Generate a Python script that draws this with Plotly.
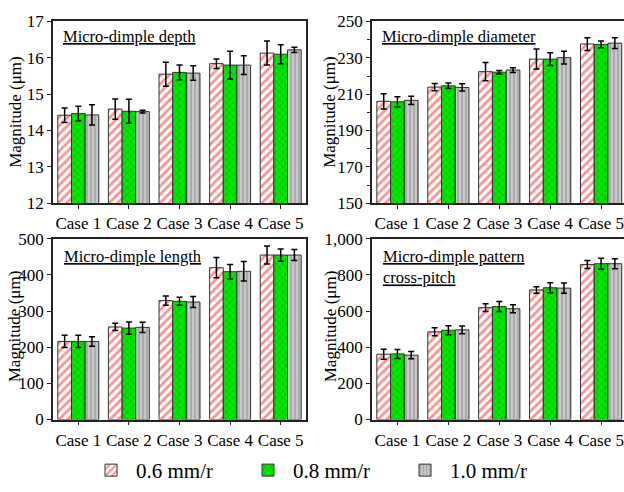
import plotly.graph_objects as go

W, H = 624, 492
cases = ["Case 1", "Case 2", "Case 3", "Case 4", "Case 5"]
series = ["0.6 mm/r", "0.8 mm/r", "1.0 mm/r"]

depth_06 = [14.42, 14.59, 15.55, 15.84, 16.13]
depth_08 = [14.47, 14.53, 15.60, 15.80, 16.10]
depth_10 = [14.43, 14.52, 15.58, 15.80, 16.22]
depth_06_err = [0.20, 0.28, 0.33, 0.13, 0.33]
depth_08_err = [0.20, 0.33, 0.20, 0.38, 0.26]
depth_10_err = [0.28, 0.04, 0.20, 0.26, 0.07]

diam_06 = [206.1, 213.9, 222.4, 229.3, 237.6]
diam_08 = [205.8, 214.6, 222.1, 229.3, 237.4]
diam_10 = [206.6, 213.7, 223.3, 230.1, 238.1]
diam_06_err = [4.2, 2.0, 5.0, 5.5, 3.5]
diam_08_err = [2.8, 1.5, 1.0, 3.5, 1.8]
diam_10_err = [2.3, 2.0, 1.3, 3.5, 3.0]

len_06 = [216, 256, 329, 420, 455]
len_08 = [216, 253, 327, 409, 455]
len_10 = [216, 255, 325, 410, 455]
len_06_err = [17, 10, 13, 28, 25]
len_08_err = [17, 17, 11, 20, 17]
len_10_err = [13, 14, 15, 27, 15]

pitch_06 = [361, 485, 619, 717, 858]
pitch_08 = [363, 494, 625, 729, 862]
pitch_10 = [356, 496, 613, 727, 862]
pitch_06_err = [28, 22, 22, 18, 22]
pitch_08_err = [25, 25, 28, 28, 30]
pitch_10_err = [20, 22, 22, 28, 28]

panel_titles = ["Micro-dimple depth", "Micro-dimple diameter",
                "Micro-dimple length", "Micro-dimple pattern<br>cross-pitch"]

FONT = "Liberation Serif"

patterns = [
    dict(shape="/", fgcolor="#ff2020", bgcolor="white", size=6, solidity=0.45),
    dict(shape="x", fgcolor="#009a00", bgcolor="#00e600", size=5, solidity=0.3),
    dict(shape="|", fgcolor="#767676", bgcolor="#c8c8c8", size=4, solidity=0.35),
]

panels = [
    (("x", "y"), [depth_06, depth_08, depth_10], [depth_06_err, depth_08_err, depth_10_err]),
    (("x2", "y2"), [diam_06, diam_08, diam_10], [diam_06_err, diam_08_err, diam_10_err]),
    (("x3", "y3"), [len_06, len_08, len_10], [len_06_err, len_08_err, len_10_err]),
    (("x4", "y4"), [pitch_06, pitch_08, pitch_10], [pitch_06_err, pitch_08_err, pitch_10_err]),
]

fig = go.Figure()
for pi, ((xa, ya), vals, errs) in enumerate(panels):
    for si in range(3):
        fig.add_trace(go.Bar(
            x=cases, y=vals[si], xaxis=xa, yaxis=ya,
            name=series[si], legendgroup=series[si], showlegend=(pi == 0),
            marker=dict(color=patterns[si]["bgcolor"], pattern=patterns[si],
                        line=dict(color="#333333", width=1)),
            error_y=dict(type="data", array=errs[si], color="black",
                         thickness=1.5, width=3),
        ))

def px_x(p):
    return p / W

def px_y(p):
    return 1 - p / H

xdom_l = [px_x(53), px_x(306)]
xdom_r = [px_x(372), 1.0]
ydom_t = [px_y(202), px_y(13)]
ydom_b = [px_y(427), px_y(239)]

tickfont = dict(family=FONT, size=17, color="black")
common_x = dict(showline=True, linecolor="#222", linewidth=1.5, ticks="outside",
                ticklen=4, tickcolor="#222", tickfont=tickfont, showgrid=False,
                mirror=True, fixedrange=True)
common_y = dict(showline=True, linecolor="#222", linewidth=1.5, ticks="outside",
                ticklen=4, tickcolor="#222", tickfont=tickfont, showgrid=False,
                zeroline=False, mirror=True)

layout = dict(
    width=W, height=H, margin=dict(l=0, r=0, t=0, b=0),
    plot_bgcolor="white", paper_bgcolor="white",
    barmode="group", bargap=0.19, bargroupgap=0,
    font=dict(family=FONT, color="black"),
    xaxis=dict(common_x, domain=xdom_l, anchor="y", range=[-0.5, 4.5]),
    yaxis=dict(common_y, domain=ydom_t, anchor="x", range=[12, 17], dtick=1),
    xaxis2=dict(common_x, domain=xdom_r, anchor="y2", range=[-0.5, 4.45]),
    yaxis2=dict(common_y, domain=ydom_t, anchor="x2", range=[150, 250], tick0=150, dtick=20,
                mirror=False, minor=dict(tick0=150, dtick=10, ticks="outside", ticklen=3,
                                         tickcolor="#222")),
    xaxis3=dict(common_x, domain=xdom_l, anchor="y3", range=[-0.5, 4.5]),
    yaxis3=dict(common_y, domain=ydom_b, anchor="x3", range=[0, 500], dtick=100),
    xaxis4=dict(common_x, domain=xdom_r, anchor="y4", range=[-0.5, 4.45]),
    yaxis4=dict(common_y, domain=ydom_b, anchor="x4", range=[0, 1000], dtick=200,
                tickformat=",d", mirror=False),
    legend=dict(orientation="h", x=px_x(86), y=px_y(480), xanchor="left", yanchor="middle",
                font=dict(family=FONT, size=21, color="black"), entrywidth=102,
                bgcolor="rgba(0,0,0,0)", itemwidth=40),
)
fig.update_layout(**layout)

# panel titles (underlined)
title_pos = [(61, 17), (380, 17), (62, 245), (381, 245)]
for t, (tx, ty) in zip(panel_titles, title_pos):
    lines = t.split("<br>")
    txt = "<br>".join(f"<u>{l}</u>" for l in lines)
    fig.add_annotation(text=txt, xref="paper", yref="paper", x=px_x(tx), y=px_y(ty),
                       xanchor="left", yanchor="top", showarrow=False, align="left",
                       font=dict(family=FONT, size=16.5, color="black"))

# y-axis titles
ytitle_pos = [(16, 107), (330, 107), (14, 330), (330, 330)]
for (tx, ty) in ytitle_pos:
    fig.add_annotation(text="Magnitude (μm)", xref="paper", yref="paper",
                       x=px_x(tx), y=px_y(ty), xanchor="center", yanchor="middle",
                       textangle=-90, showarrow=False,
                       font=dict(family=FONT, size=17, color="black"))

fig.write_html("out.html")
